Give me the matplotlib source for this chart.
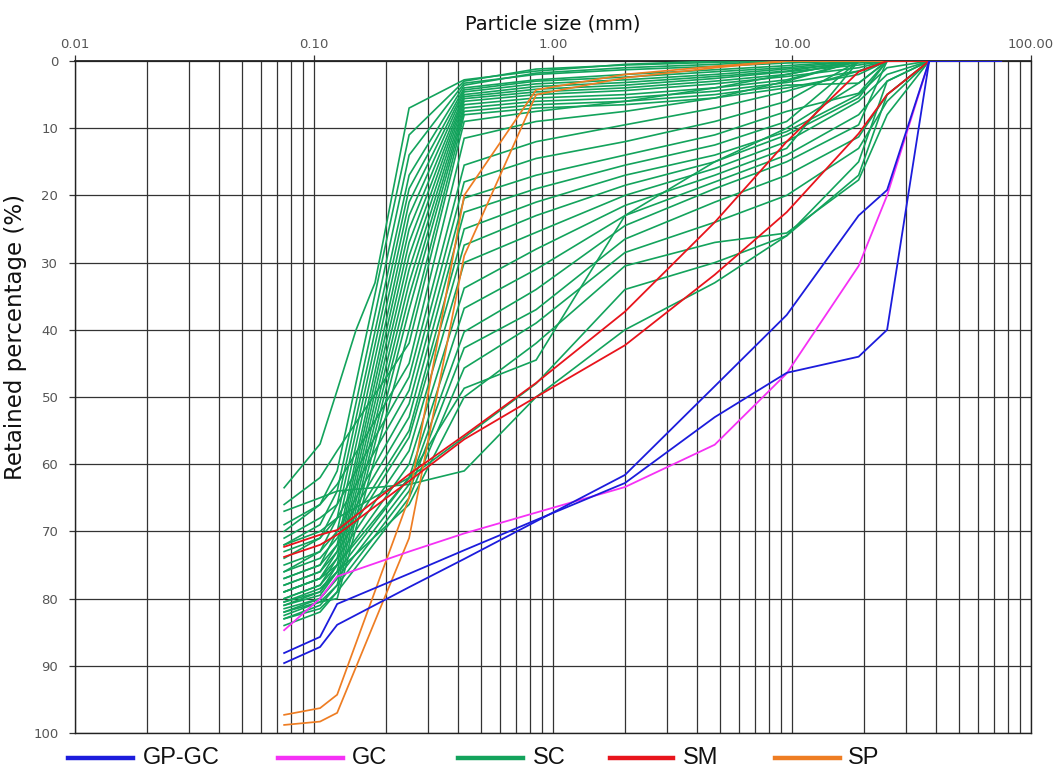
import matplotlib
matplotlib.use("Agg")
import matplotlib.pyplot as plt
from matplotlib.lines import Line2D

N = None

# Sieve openings (mm)
sieve_mm = [0.075, 0.106, 0.125, 0.15, 0.18, 0.25, 0.425, 0.85, 2.0, 4.75,
            9.5, 19.0, 25.0, 37.5, 50.0, 75.0]

# Retained percentage (%) per sample, aligned with sieve_mm (None = not measured)
gpgc_1 = [88.1, 85.7, 80.8, N, N, 76.3, 72.8, 68.3, 62.8, 53.0, 46.4, 44.0, 40.0, 0, 0, 0]
gpgc_2 = [89.6, 87.2, 83.9, N, N, 78.3, 74.1, 68.5, 61.6, 48.4, 37.8, 23.0, 19.2, 0, 0, 0]
gc_1 = [84.7, 80.0, 76.7, N, N, 73.0, 70.3, 67.2, 63.4, 57.1, 46.5, 30.5, 20.0, 0, 0, 0]
sm_1 = [72.3, 70.5, 69.8, N, N, 61.5, 55.7, 47.9, 37.3, 24.0, 12.0, 1.6, 0, 0, 0, 0]
sm_2 = [73.8, 72.0, 70.5, N, N, 62.5, 56.3, 50.0, 42.3, 31.8, 22.5, 10.8, 5.0, 0, 0, 0]
sp_1 = [97.3, 96.3, 94.3, N, N, 65.0, 20.0, 4.3, 2.0, 0.8, 0, 0, 0, 0, 0, 0]
sp_2 = [98.8, 98.3, 97.0, N, N, 71.0, 29.0, 5.0, 2.5, 1.0, 0, 0, 0, 0, 0, 0]

sc_fine = [
    [63.5, 57.0, 49.0, 40.0, 33.0, 7.0, 2.8, 1.5, 0.5, 0, 0, 0, 0, 0, 0, 0],
    [70.0, 66.0, 61.0, N, N, 11.0, 3.0, 1.2, 0.6, 0.2, 0, 0, 0, 0, 0, 0],
    [72.0, 69.0, 64.0, N, N, 14.0, 3.3, 2.0, 1.3, 0.8, 0.3, 0, 0, 0, 0, 0],
    [74.0, 71.0, 66.0, N, N, 17.0, 3.6, 1.8, 1.0, 0.5, 0, 0, 0, 0, 0, 0],
    [76.0, 73.0, 68.0, N, N, 19.0, 4.0, 2.8, 2.0, 1.3, 0.7, 0, 0, 0, 0, 0],
    [77.0, 75.0, 70.0, N, N, 21.0, 4.3, 3.0, 2.4, 1.6, 1.0, 0, 0, 0, 0, 0],
    [78.0, 76.0, 72.0, N, N, 23.0, 4.6, 3.4, 2.8, 2.0, 1.2, 0.3, 0, 0, 0, 0],
    [79.0, 77.0, 73.0, N, N, 25.0, 5.0, 3.8, 3.2, 2.3, 1.5, 0, 0, 0, 0, 0],
    [80.0, 78.0, 74.0, N, N, 27.0, 5.3, 4.2, 3.6, 2.6, 1.6, 0.6, 0, 0, 0, 0],
    [80.5, 79.0, 75.0, N, N, 29.0, 5.6, 4.6, 4.0, 3.0, 2.0, 0, 0, 0, 0, 0],
    [81.0, 79.5, 76.0, N, N, 31.0, 6.0, 5.0, 4.4, 3.4, 2.3, 1.0, 0, 0, 0, 0],
    [82.0, 80.0, 77.0, N, N, 33.0, 6.5, 5.5, 5.0, 4.0, 2.8, 0, 0, 0, 0, 0],
    [83.0, 81.0, 78.0, N, N, 35.0, 7.0, 6.0, 5.5, 4.5, 3.2, 1.5, 0, 0, 0, 0],
    [84.0, 82.0, 79.0, N, N, 37.0, 7.5, 6.5, 6.0, 5.0, 3.6, 3.3, 0, 0, 0, 0],
    [82.5, 80.5, 80.0, N, N, 40.0, 8.0, 7.0, 6.5, 5.5, 4.0, 2.0, 0, 0, 0, 0],
]

sc_graded = [
    [66.0, 62.0, 58.0, N, N, 42.0, 9.0, 7.5, 6.0, 4.0, 2.0, 0, 0, 0, 0, 0],
    [69.0, 66.0, 63.0, N, N, 45.0, 11.5, 9.0, 7.5, 5.5, 3.0, 0, 0, 0, 0, 0],
    [71.0, 68.0, 66.0, N, N, 47.0, 15.5, 12.0, 9.5, 7.0, 4.5, 1.5, 0, 0, 0, 0],
    [73.0, 71.0, 68.0, N, N, 49.0, 18.0, 14.5, 12.0, 9.0, 6.0, 0, 0, 0, 0, 0],
    [75.0, 73.0, 70.0, N, N, 51.0, 20.4, 17.0, 14.0, 11.0, 7.5, 4.8, 0, 0, 0, 0],
    [76.0, 74.0, 71.0, N, N, 53.0, 22.5, 19.0, 15.5, 12.5, 9.0, 0, 0, 0, 0, 0],
    [77.0, 75.0, 72.0, N, N, 55.0, 25.0, 21.0, 17.0, 14.0, 10.5, 5.0, 1.0, 0, 0, 0],
    [78.0, 76.0, 73.0, N, N, 56.0, 27.4, 23.0, 18.5, 15.0, 11.0, 5.5, 0, 0, 0, 0],
    [79.0, 77.0, 74.0, N, N, 58.0, 30.0, 25.5, 20.0, 16.0, 12.0, 6.0, 2.0, 0, 0, 0],
    [80.0, 78.0, 75.0, N, N, 60.0, 33.8, 28.0, 21.5, 17.0, 13.0, 0, 0, 0, 0, 0],
    [81.0, 79.0, 76.0, N, N, 62.0, 36.8, 31.0, 23.0, 18.0, 14.0, 8.0, 3.0, 0, 0, 0],
    [81.5, 80.0, 77.0, N, N, 63.0, 40.3, 34.0, 24.5, 19.0, 15.0, 9.5, 0, 0, 0, 0],
    [82.0, 80.5, 78.0, N, N, 64.0, 42.7, 37.0, 26.5, 21.0, 17.0, 11.3, 5.0, 0, 0, 0],
    [83.0, 81.5, 79.0, N, N, 65.0, 45.7, 39.0, 28.5, 24.0, 20.0, 13.0, 6.0, 0, 0, 0],
    [79.0, 77.0, 75.0, N, N, 62.0, 48.7, 44.5, 23.0, 15.0, 10.0, 3.3, 0, 0, 0, 0],
    [80.5, 78.5, 76.0, N, N, 66.0, 50.0, 42.0, 30.5, 27.0, 25.6, 17.7, 8.0, 0, 0, 0],
    [72.0, 70.0, 68.0, N, N, 62.0, 56.0, 48.0, 34.0, 30.0, 26.0, 17.0, 5.0, 0, 0, 0],
    [67.0, 65.0, 64.0, N, N, 63.0, 61.0, 50.0, 40.0, 33.0, 26.0, 15.0, 3.0, 0, 0, 0],
]

legend_labels = ["GP-GC", "GC", "SC", "SM", "SP"]
x_tick_values = [0.01, 0.1, 1, 10, 100]
x_tick_labels = ["0.01", "0.10", "1.00", "10.00", "100.00"]
y_tick_values = list(range(0, 101, 10))

c_blue = "#1c1cdc"
c_mag = "#f531f5"
c_green = "#13a35c"
c_red = "#e8141c"
c_orange = "#ee7d23"

W, H = 1063, 771
fig = plt.figure(figsize=(W / 100, H / 100), dpi=100)
L, R, T, B = 75, 1031, 61, 733
ax = fig.add_axes([L / W, 1 - B / H, (R - L) / W, (B - T) / H])
ax.set_xscale("log")
ax.set_xlim(0.01, 100)
ax.set_ylim(100, 0)


def draw(values, color, lw=1.25, z=3):
    xs = [s for s, v in zip(sieve_mm, values) if v is not None]
    ys = [v for v in values if v is not None]
    ax.plot(xs, ys, color=color, lw=lw, zorder=z, solid_joinstyle="miter")


for row in sc_fine + sc_graded:
    draw(row, c_green, 1.2, 3)
for row in (sp_1, sp_2):
    draw(row, c_orange, 1.25, 4)
for row in (sm_1, sm_2):
    draw(row, c_red, 1.3, 4)
draw(gc_1, c_mag, 1.3, 5)
for row in (gpgc_1, gpgc_2):
    draw(row, c_blue, 1.3, 5)

# grid
minor = [m * 10.0 ** k for k in range(-2, 2) for m in range(2, 10)]
ax.set_xticks(x_tick_values)
ax.set_xticklabels(x_tick_labels)
ax.set_xticks(minor, minor=True)
ax.xaxis.set_minor_formatter(matplotlib.ticker.NullFormatter())
ax.set_yticks(y_tick_values)
ax.set_yticklabels([str(v) for v in y_tick_values])
ax.grid(True, which="both", axis="x", color="#333333", lw=0.9)
ax.grid(True, which="major", axis="y", color="#333333", lw=0.9)
ax.set_axisbelow(True)

ax.xaxis.tick_top()
ax.tick_params(axis="x", which="major", length=4, width=0.9, colors="#333333",
               labelcolor="#555555", labelsize=9.5, pad=3)
ax.tick_params(axis="x", which="minor", length=0)
ax.tick_params(axis="y", which="major", length=4, width=0.9, colors="#333333",
               labelcolor="#555555", labelsize=9.5, pad=8)
for s in ax.spines.values():
    s.set_color("#222222")
    s.set_linewidth(1.0)
ax.spines["top"].set_linewidth(1.3)

ax.xaxis.set_label_position("top")
ax.set_xlabel("Particle size (mm)", fontsize=14, color="#111111", labelpad=6)
ax.set_ylabel("Retained percentage (%)", fontsize=16.5, color="#111111")
ax.yaxis.set_label_coords(-0.05, 0.59)

# legend below the plot
legend_colors = [c_blue, c_mag, c_green, c_red, c_orange]
line_x = [(68, 133), (278, 343), (458, 523), (610, 673), (775, 840)]
text_x = [143, 352, 533, 683, 848]
ly = 1 - 758 / H
for (x0, x1), tx, col, lab in zip(line_x, text_x, legend_colors, legend_labels):
    fig.add_artist(Line2D([x0 / W, x1 / W], [ly, ly], color=col, lw=3.2,
                          transform=fig.transFigure))
    fig.text(tx / W, ly, lab, fontsize=17, va="center", ha="left",
             family=["Liberation Sans", "DejaVu Sans"], color="#111111")

fig.savefig("out.png", dpi=100)
